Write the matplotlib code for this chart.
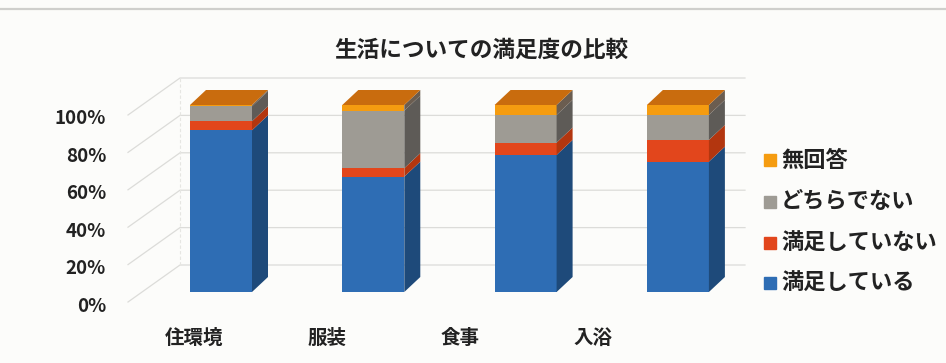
'''Stacked 3D-style column chart of satisfaction by living area'''

import matplotlib
matplotlib.use("Agg")
import matplotlib.pyplot as plt
from matplotlib.patches import Polygon, Rectangle
import numpy as np

plt.rcParams['font.family'] = ['Noto Sans CJK JP', 'DejaVu Sans']

categories = ['住環境', '服装', '食事', '入浴']
series = ['満足している', '満足していない', 'どちらでない', '無回答']
satisfied = [86.5, 61.7, 73.3, 69.7]
unsatisfied = [4.8, 4.5, 6.6, 11.6]
neither = [8.0, 30.8, 14.8, 13.4]
no_answer = [0.7, 3.0, 5.3, 5.3]
ticks = [0, 20, 40, 60, 80, 100]
tick_labels = ['0%', '20%', '40%', '60%', '80%', '100%']

front_colors = ['#2e6db4', '#e2461c', '#9e9b94', '#f59c10']
side_colors = ['#1e4a7a', '#b3360f', '#5e5b57', '#6b5d50']
top_color = '#c96c0e'
grid_color = '#dcdcd9'
text_color = '#222222'

# pixel scale of one data unit
PX = 152.3
PY = 1.87
X0 = 221
Y0 = 292

def px_x(p):
	return (p - X0) / PX

def px_y(p):
	return (Y0 - p) / PY

fig = plt.figure(figsize = (9.46, 3.63), dpi = 100)
fig.patch.set_facecolor('#fcfcfa')
ax = fig.add_axes([0, 0, 1, 1])
ax.set_xlim(px_x(0), px_x(946))
ax.set_ylim(px_y(363), px_y(0))
ax.axis('off')

# walls: side wall diagonals and back wall gridlines
xf, xb, xr = px_x(128), px_x(180), px_x(745)
front_shift = -10 / PY
back_shift = 27 / PY
for t in ticks:
	ax.plot([xf, xb, xr], [t + front_shift, t + back_shift, t + back_shift], color = grid_color, lw = 0.9, zorder = 1)
ax.plot([xb, xb], [back_shift, 100 + back_shift], color = '#e6e6e2', lw = 0.8, ls = (0, (3, 2)), zorder = 1)

for t, lab in zip(ticks, tick_labels):
	ax.text(px_x(106), t - 14 / PY, lab, ha = 'right', va = 'center', fontsize = 13.5,
		fontweight = 'bold', color = text_color)

# bars
w = 31 / PX
dx = 16 / PX
dy = 15 / PY
values = np.array([satisfied, unsatisfied, neither, no_answer])
for i in range(len(categories)):
	bottom = 0
	for j in range(len(series)):
		top = bottom + values[j][i]
		ax.add_patch(Rectangle((i - w, bottom), 2 * w, values[j][i], facecolor = front_colors[j], edgecolor = 'none', zorder = 3))
		ax.add_patch(Polygon([(i + w, bottom), (i + w + dx, bottom + dy), (i + w + dx, top + dy), (i + w, top)],
			closed = True, facecolor = side_colors[j], edgecolor = 'none', zorder = 3))
		bottom = top
	ax.add_patch(Polygon([(i - w, bottom), (i - w + dx, bottom + dy), (i + w + dx, bottom + dy), (i + w, bottom)],
		closed = True, facecolor = top_color, edgecolor = 'none', zorder = 3))

# category labels along the front edge
for i, c in enumerate(categories):
	ax.text(i * 0.875 - 0.18, px_y(338), c, ha = 'center', va = 'center', fontsize = 14,
		fontweight = 'bold', color = text_color)

# legend, last series on top
legend_rows = [283, 243, 202, 160]
for j in range(len(series)):
	ax.plot(px_x(770), px_y(legend_rows[j]), marker = 's', markersize = 8.5, color = front_colors[j], ls = 'none')
	ax.text(px_x(781), px_y(legend_rows[j]), series[j], ha = 'left', va = 'center', fontsize = 16,
		fontweight = 'bold', color = text_color)

fig.text(481 / 946, 1 - 50 / 363, '生活についての満足度の比較', ha = 'center', va = 'center', fontsize = 16.3,
	fontweight = 'bold', color = text_color)

# frame line at the top
ax.plot([px_x(0), px_x(946)], [px_y(9), px_y(9)], color = '#cfcfcc', lw = 1.6)

fig.savefig('out.png', dpi = 100, facecolor = fig.get_facecolor())
